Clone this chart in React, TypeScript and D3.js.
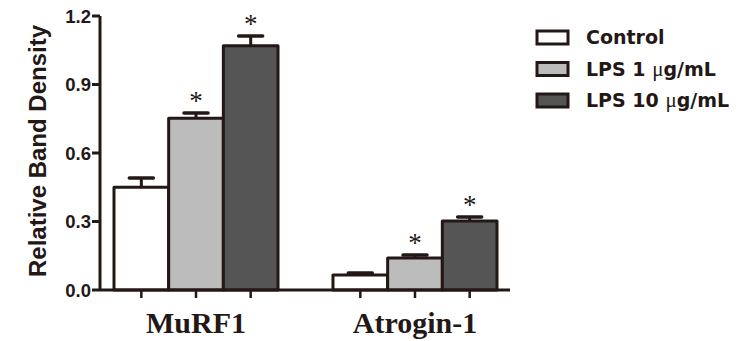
import React from "react";
import * as d3 from "d3";

const genes = ["MuRF1", "Atrogin-1"];
const groups = ["Control", "LPS 1", "LPS 10"];
const means = [
  [0.45, 0.752, 1.07],
  [0.066, 0.14, 0.302],
];
const errs = [
  [0.04, 0.023, 0.042],
  [0.008, 0.013, 0.018],
];
const starred = [
  [false, true, true],
  [false, true, true],
];
const yTicks = [0, 0.3, 0.6, 0.9, 1.2];
const fills = ["#ffffff", "#bcbcbc", "#555555"];
const ink = "#231815";

const App = () => {
  const W = 744;
  const H = 341;
  const y = d3.scaleLinear().domain([0, 1.2]).range([290, 16]);
  const outer = d3.scaleBand().domain(genes).range([114, 497]).paddingInner(0.251).paddingOuter(0);
  const inner = d3.scaleBand().domain(groups).range([0, outer.bandwidth()]);
  const bw = inner.bandwidth();
  const fmt = d3.format(".1f");
  const axisX0 = 100;
  const axisX1 = 510;

  return (
    <svg width={W} height={H} style={{ position: "absolute", left: 0, top: 0 }}>
      <rect width={W} height={H} fill="#fff" />
      {/* bars */}
      {genes.map((g, gi) =>
        groups.map((s, si) => {
          const x0 = outer(g)! + inner(s)!;
          const cx = x0 + bw / 2;
          const top = y(means[gi][si]);
          const et = y(means[gi][si] + errs[gi][si]);
          return (
            <g key={g + s}>
              <line x1={cx} x2={cx} y1={top} y2={et} stroke={ink} strokeWidth={3} />
              <line x1={cx - 12} x2={cx + 12} y1={et} y2={et} stroke={ink} strokeWidth={3.5} strokeLinecap="round" />
              <rect x={x0} y={top} width={bw} height={y(0) - top} fill={fills[si]} stroke={ink} strokeWidth={3} strokeLinejoin="round" />
              {starred[gi][si] && (
                <text x={cx} y={et - 3} textAnchor="middle" fontFamily="Liberation Serif" fontSize={27} fill={ink}>
                  *
                </text>
              )}
              <line x1={cx} x2={cx} y1={y(0)} y2={y(0) + 8} stroke={ink} strokeWidth={2.5} />
            </g>
          );
        })
      )}
      {/* axes */}
      <line x1={axisX0} x2={axisX1} y1={y(0)} y2={y(0)} stroke={ink} strokeWidth={3} />
      <line x1={axisX0} x2={axisX0} y1={y(1.2)} y2={y(0)} stroke={ink} strokeWidth={3} />
      {yTicks.map((t) => (
        <g key={t}>
          <line x1={axisX0 - 8} x2={axisX0} y1={y(t)} y2={y(t)} stroke={ink} strokeWidth={3} />
          <text x={axisX0 - 9} y={y(t)} dy="0.36em" textAnchor="end" fontFamily="Liberation Sans" fontWeight="bold" fontSize={18.5} fill={ink}>
            {fmt(t)}
          </text>
        </g>
      ))}
      <text
        transform={`translate(46,151) rotate(-90)`}
        textAnchor="middle"
        fontFamily="Liberation Sans"
        fontWeight="bold"
        fontSize={24}
        fill={ink}
      >
        Relative Band Density
      </text>
      {genes.map((g) => (
        <text key={g} x={outer(g)! + outer.bandwidth() / 2} y={333} textAnchor="middle" fontFamily="Liberation Serif" fontWeight="bold" fontSize={30} fill={ink}>
          {g}
        </text>
      ))}
      {/* legend */}
      {groups.map((s, si) => {
        const cy = 37.5 + si * 31.5;
        return (
          <g key={s}>
            <rect x={537} y={cy - 6.5} width={31} height={13} fill={fills[si]} stroke={ink} strokeWidth={3} />
            <text x={586} y={cy} dy="0.36em" fontFamily="DejaVu Sans" fontWeight="bold" fontSize={19} fill={ink}>
              {s === "Control" ? (
                "Control"
              ) : (
                <>
                  {s + " "}
                  <tspan fontFamily="Liberation Serif" fontWeight="normal" fontSize={21}>μ</tspan>
                  g/mL
                </>
              )}
            </text>
          </g>
        );
      })}
    </svg>
  );
};

export default App;
